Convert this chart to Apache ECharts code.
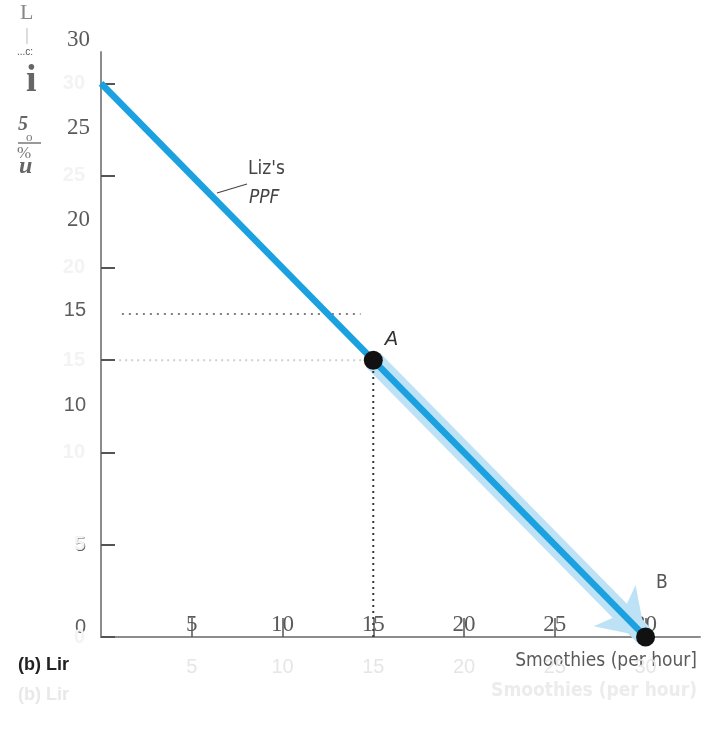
<!DOCTYPE html>
<html><head><meta charset="utf-8">
<script src="https://cdn.jsdelivr.net/npm/echarts@6/dist/echarts.min.js"></script>
<style>html,body{margin:0;padding:0;background:#fff}#c{width:702px;height:735px}</style>
</head><body><div id="c"></div>
<script>
// ---- data ----
const xTickValues = [5, 10, 15, 20, 25, 30];
const yTickValues = [0, 5, 10, 15, 20, 25, 30];
const yGhostLabels = ['30', '25', '20', '15', '10', '5', '0'];
const ppfSmoothies = [0, 30];
const ppfOther = [30, 0];
const pointA = [15, 15];
const pointB = [30, 0];
const guideStartX = 1;
const guideEndX = 14.6;
const ghostGuideY = 17.5;
const ghostGuideX = [1.15, 14.3];
const xAxisName = 'Smoothies (per hour]';
const xAxisGhostName = 'Smoothies (per hour)';
const panelTitle = '(b) Lir';
const ppfLabel = ["Liz's", 'PPF'];

const chart = echarts.init(document.getElementById('c'), null, {renderer: 'canvas'});

const serif = 'Liberation Serif';
const sans = 'Liberation Sans';
const cond = 'DejaVu Sans Condensed';

// dark overlay y labels (misregistered scan layer)
const ghostYPos = [40, 128, 220, 310, 405, 545, 627];
const ghostYText = yGhostLabels.map((t, i) => ({
  type: 'text',
  x: i < 3 ? 90 : 86, y: ghostYPos[i],
  style: {
    text: t, align: 'right', verticalAlign: 'middle',
    font: i < 3 ? `23px "${serif}"` : `20px "${sans}"`,
    fill: i < 3 ? '#5a5a5a' : '#5e5e5e'
  }
}));

const option = {
  animation: false,
  backgroundColor: '#fff',
  grid: {left: 101, top: 52, width: 599, height: 585, containLabel: false},
  xAxis: [
    {
      type: 'value', min: 0, max: 33, position: 'bottom',
      axisLine: {show: true, lineStyle: {color: '#8c8c8c', width: 2}},
      axisTick: {show: false},
      splitLine: {show: false},
      axisLabel: {
        customValues: xTickValues, margin: 20,
        color: '#e6e6e6', fontFamily: sans, fontSize: 20
      }
    },
    {
      type: 'value', min: 0, max: 33, position: 'bottom',
      axisLine: {show: false},
      axisTick: {show: true, inside: true, length: 19, customValues: xTickValues,
        lineStyle: {color: '#555', width: 1.5}},
      splitLine: {show: false},
      axisLabel: {
        customValues: xTickValues, inside: true, margin: 1,
        color: '#5a5a5a', fontFamily: serif, fontSize: 23
      }
    }
  ],
  yAxis: [
    {
      type: 'value', min: 0, max: 31.7,
      axisLine: {show: true, lineStyle: {color: '#8c8c8c', width: 2}},
      axisTick: {show: true, inside: true, length: 14, customValues: yTickValues,
        lineStyle: {color: '#555', width: 2}},
      splitLine: {show: false},
      axisLabel: {
        customValues: yTickValues, margin: 16,
        color: '#f3f3f3', fontFamily: sans, fontSize: 20, fontWeight: 'bold'
      }
    }
  ],
  series: [
    {
      type: 'lines', coordinateSystem: 'cartesian2d', z: 1,
      symbol: ['none', 'arrow'], symbolSize: 44,
      lineStyle: {color: '#bde2f6', width: 20, opacity: 1, curveness: 0},
      data: [{coords: [pointA, pointB]}],
      silent: true
    },
    {
      type: 'line', z: 2, symbol: 'none', silent: true,
      lineStyle: {color: '#cfcfcf', width: 2, type: [2, 4]},
      data: [[guideStartX, pointA[1]], [guideEndX, pointA[1]]]
    },
    {
      type: 'line', z: 2, symbol: 'none', silent: true,
      lineStyle: {color: '#555', width: 1.5, type: [2, 5]},
      data: [[ghostGuideX[0], ghostGuideY], [ghostGuideX[1], ghostGuideY]]
    },
    {
      type: 'line', z: 2, symbol: 'none', silent: true,
      lineStyle: {color: '#3a3a3a', width: 2, type: [2, 4]},
      data: [[pointA[0], 0], pointA]
    },
    {
      type: 'line', z: 3, symbol: 'none', silent: true,
      lineStyle: {color: '#1ba1df', width: 6.5},
      data: ppfSmoothies.map((s, i) => [s, ppfOther[i]])
    },
    {
      type: 'scatter', z: 5, symbolSize: 19, silent: true,
      itemStyle: {color: '#111', opacity: 1},
      data: [
        {value: pointA, label: {show: true, formatter: 'A', position: 'right', offset: [-3, -21],
          fontStyle: 'italic', fontFamily: sans, fontSize: 20, color: '#333'}},
        {value: pointB, label: {show: true, formatter: 'B', position: 'right', offset: [-4, -54],
          fontFamily: cond, fontSize: 19, color: '#555'}}
      ]
    }
  ],
  graphic: [
    ...ghostYText,
    // PPF annotation
    {type: 'line', shape: {x1: 217, y1: 193, x2: 247, y2: 184}, style: {stroke: '#444', lineWidth: 1.2}},
    {type: 'text', x: 248, y: 160, style: {text: ppfLabel[0], font: `19px "${cond}"`, fill: '#444'}},
    {type: 'text', x: 249, y: 189, style: {text: ppfLabel[1], font: `italic 19px "${cond}"`, fill: '#444'}},
    // axis name and ghost copies
    {type: 'text', x: 697, y: 661, style: {text: xAxisName, align: 'right', verticalAlign: 'middle', font: `19px "${cond}"`, fill: '#5a5a5a'}},
    {type: 'text', x: 697, y: 691, style: {text: xAxisGhostName, align: 'right', verticalAlign: 'middle', font: `bold 19px "${cond}"`, fill: '#ececec'}},
    {type: 'text', x: 18, y: 665, style: {text: panelTitle, verticalAlign: 'middle', font: `bold 18px "${sans}"`, fill: '#222'}},
    {type: 'text', x: 18, y: 695, style: {text: panelTitle, verticalAlign: 'middle', font: `bold 18px "${sans}"`, fill: '#e8e8e8'}},
    // garbled y-axis title fragments
    {type: 'text', x: 20, y: 2, style: {text: 'L', font: `22px "${serif}"`, fill: '#888'}},
    {type: 'line', shape: {x1: 27, y1: 28, x2: 27, y2: 44}, style: {stroke: '#bbb', lineWidth: 1}},
    {type: 'text', x: 17, y: 47, style: {text: '...c:', font: `10px "${sans}"`, fill: '#555'}},
    {type: 'text', x: 26, y: 62, style: {text: 'i', font: `bold 38px "${serif}"`, fill: '#666'}},
    {type: 'text', x: 18, y: 115, style: {text: '5', font: `italic bold 20px "${serif}"`, fill: '#666'}},
    {type: 'line', shape: {x1: 18, y1: 143, x2: 41, y2: 143}, style: {stroke: '#999', lineWidth: 2}},
    {type: 'text', x: 26, y: 131, style: {text: 'o', font: `13px "${serif}"`, fill: '#777'}},
    {type: 'text', x: 17, y: 145, style: {text: '%', font: `17px "${serif}"`, fill: '#777'}},
    {type: 'text', x: 19, y: 155, style: {text: 'u', font: `italic bold 24px "${serif}"`, fill: '#666'}}
  ]
};
chart.setOption(option);
</script>
</body></html>
